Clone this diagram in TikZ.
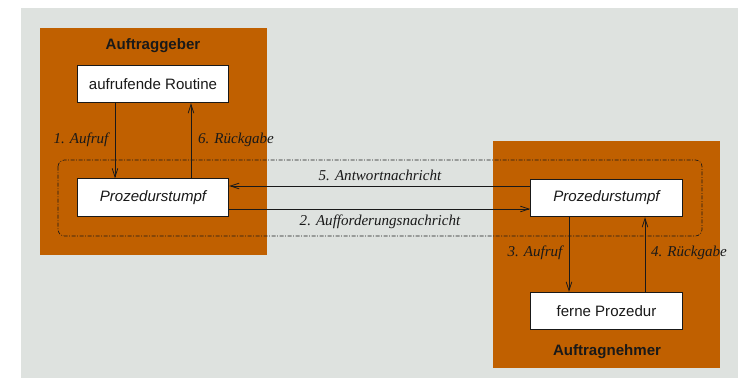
\documentclass[tikz,border=0pt]{standalone}
\usepackage{fontspec}
\setmainfont{Liberation Sans}
\newfontfamily\labelfont{Liberation Serif}
\usetikzlibrary{calc,arrows.meta}
\definecolor{BgGray}{RGB}{222,226,223}
\definecolor{HostOrange}{RGB}{192,96,0}
\definecolor{InkDark}{RGB}{25,25,25}

\begin{document}
\begin{tikzpicture}[x=0.75pt, y=-0.75pt, >={Straight Barb[angle'=36,length=6.5pt]}]
				\tikzstyle{every node}=[font=\fontsize{11.3}{13}\selectfont, text=InkDark];
				\tikzstyle{box}=[draw=InkDark, line width=0.8pt, fill=white, minimum width=113.5pt, minimum height=28pt, inner sep=0pt];
				\tikzstyle{msg}=[font=\fontsize{11.3}{13}\selectfont\labelfont\itshape, inner sep=0pt];
				\tikzstyle{flow}=[->, draw=InkDark, line width=0.6pt];
				\useasboundingbox (0,0) rectangle (738,378);
				\fill[BgGray] (21,8) rectangle (738,378);
				\fill[HostOrange] (40,28) rectangle (267,255);
				\fill[HostOrange] (493,141) rectangle (720,368);
				\draw[InkDark, line width=0.5pt, rounded corners=5pt, dash pattern=on 3pt off 1.2pt on 0.6pt off 1.2pt] (58,160) rectangle (702,236);
				\node [font=\fontsize{11.3}{13}\selectfont\bfseries] (client) at (153,46) {Auftraggeber};
				\node [font=\fontsize{11.3}{13}\selectfont\bfseries] (server) at (607,352) {Auftragnehmer};
				\node [box] (routine) at (153,84) {aufrufende Routine};
				\node [box, font=\fontsize{11.3}{13}\selectfont\itshape] (stubL) at (153,197.5) {Prozedurstumpf};
				\node [box, font=\fontsize{11.3}{13}\selectfont\itshape] (stubR) at (606.5,198) {Prozedurstumpf};
				\node [box] (remote) at (606.5,311) {ferne Prozedur};
				\draw[flow] ($(routine.south)+(-38,0)$) -- ($(stubL.north)+(-38,0)$);
				\draw[flow] ($(stubL.north)+(38,0)$) -- ($(routine.south)+(38,0)$);
				\draw[flow] ($(stubL.east)+(0,11.5)$) -- ($(stubR.west)+(0,11)$);
				\draw[flow] ($(stubR.west)+(0,-12)$) -- ($(stubL.east)+(0,-11.5)$);
				\draw[flow] ($(stubR.south)+(-37.5,0)$) -- ($(remote.north)+(-37.5,0)$);
				\draw[flow] ($(remote.north)+(38.5,0)$) -- ($(stubR.south)+(38.5,0)$);
				\node [msg] (t1) at (81,140) {1. Aufruf};
				\node [msg] (t6) at (236,140) {6. R\"uckgabe};
				\node [msg] (t5) at (380,175) {5. Antwortnachricht};
				\node [msg] (t2) at (380,222) {2. Aufforderungsnachricht};
				\node [msg] (t3) at (535,253) {3. Aufruf};
				\node [msg] (t4) at (689,253) {4. R\"uckgabe};
			\end{tikzpicture}
\end{document}
